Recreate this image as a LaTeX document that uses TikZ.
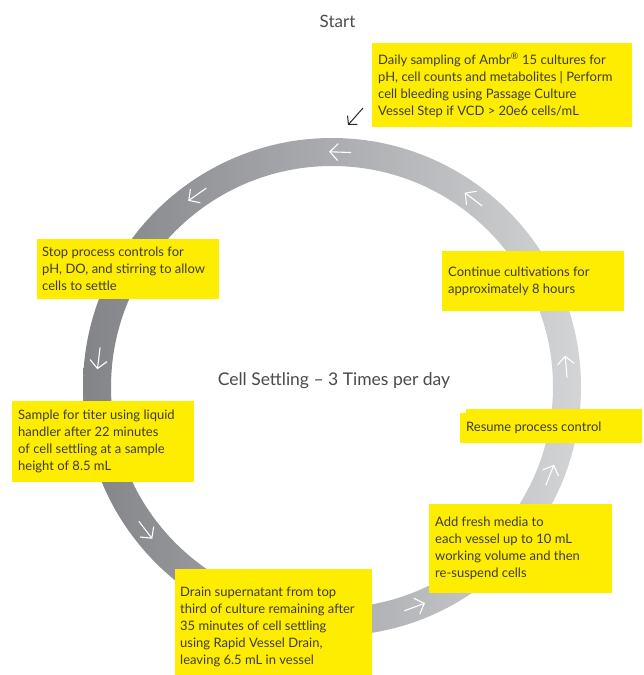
\documentclass[tikz,border=0pt]{standalone}
\usepackage{fontspec}
\setmainfont{Lato}
\usetikzlibrary{arrows.meta,calc}
\definecolor{boxyellow}{HTML}{FFED00}
\definecolor{ringdark}{HTML}{838488}
\definecolor{ringlight}{HTML}{D3D4D6}
\definecolor{inktext}{HTML}{3C3C3C}
\definecolor{labelgrey}{HTML}{4A4A4A}

\begin{document}
\begin{tikzpicture}[x=1pt,y=-1pt,
  stepbox/.style={fill=boxyellow, anchor=north west, inner sep=0pt},
  steptext/.style={anchor=west, align=left, inner sep=0pt, text=inktext,
    font=\fontsize{13}{17}\selectfont},
  ringarrow/.style={white, line width=1.1pt, -{Straight Barb[length=8pt,width=17pt]}},
  caption/.style={text=labelgrey, anchor=base, inner sep=0pt},
]
\clip (0,0) rectangle (644,675);

% cycle ring with left-to-right grey shading and direction arrows
\begin{scope}[shift={(332,387)}, y=1pt]
  \shade[left color=ringdark, right color=ringlight, even odd rule]
    (0,0) circle (249) (0,0) circle (221);
  \foreach \a [count=\i] in {5,53,88,125,173,217.5,290.6,338} {
    \coordinate (tail\i) at ($(\a:235)+(\a-90:11)$);
    \coordinate (head\i) at ($(\a:235)+(\a+90:11)$);
    \draw[ringarrow] (tail\i) -- (head\i);
  }
\end{scope}

% labels
\node[caption, font=\fontsize{17}{20}\selectfont] (start) at (337.5,27) {Start};
\node[caption, font=\fontsize{17.5}{20}\selectfont] (title) at (334,385)
  {Cell Settling \textendash{} 3 Times per day};

% entry arrow
\coordinate (startTail) at (363,108);
\coordinate (startTip) at (348,125);
\draw[black!85, line width=1pt, -{Straight Barb[length=6pt,width=13pt]}] (startTail) -- (startTip);

% process steps: yellow panels, text set 6pt in from the left edge
\node[stepbox, minimum width=260pt, minimum height=84pt] (daily) at (372,43) {};
\node[steptext] (dailyText) at ([xshift=6pt]daily.west)
  {Daily sampling of Ambr\textsuperscript{®} 15 cultures for\\
   pH, cell counts and metabolites | Perform\\
   cell bleeding using Passage Culture\\
   Vessel Step if VCD > 20e6 cells/mL};

\node[stepbox, minimum width=182pt, minimum height=60pt] (continue) at (442,251) {};
\node[steptext] (continueText) at ([xshift=6pt]continue.west)
  {Continue cultivations for\\ approximately 8 hours};

\fill[boxyellow] (466,409) rectangle (642,414);
\node[stepbox, minimum width=182pt, minimum height=30pt] (resume) at (460,413) {};
\node[steptext] (resumeText) at ([xshift=6pt]resume.west) {Resume process control};

\node[stepbox, minimum width=183pt, minimum height=89pt] (fresh) at (429,504) {};
\node[steptext] (freshText) at ([xshift=6pt]fresh.west)
  {Add fresh media to\\ each vessel up to 10 mL\\ working volume and then\\ re-suspend cells};

\node[stepbox, minimum width=197pt, minimum height=116pt] (drain) at (175,569) {};
\node[steptext] (drainText) at ([xshift=5pt]drain.west)
  {Drain supernatant from top\\ third of culture remaining after\\ 35 minutes of cell settling\\ using Rapid Vessel Drain,\\ leaving 6.5 mL in vessel};

\node[stepbox, minimum width=182pt, minimum height=81pt] (titer) at (12,401) {};
\node[steptext] (titerText) at ([xshift=6pt]titer.west)
  {Sample for titer using liquid\\ handler after 22 minutes\\ of cell settling at a sample\\ height of 8.5 mL};

\node[stepbox, minimum width=182pt, minimum height=60pt] (stop) at (37,239) {};
\node[steptext] (stopText) at ([xshift=5pt]stop.west)
  {Stop process controls for\\ pH, DO, and stirring to allow\\ cells to settle};
\end{tikzpicture}
\end{document}
